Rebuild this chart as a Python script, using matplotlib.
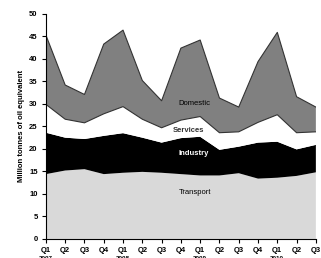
import matplotlib
matplotlib.use("Agg")
import matplotlib.pyplot as plt
import matplotlib.transforms as mtransforms
import numpy as np

quarters = ["Q1", "Q2", "Q3", "Q4", "Q1", "Q2", "Q3", "Q4", "Q1", "Q2", "Q3", "Q4", "Q1", "Q2", "Q3"]
years = ["2007", "", "", "", "2008", "", "", "", "2009", "", "", "", "2010", "", ""]

transport = [14.4, 15.2, 15.5, 14.4, 14.7, 14.9, 14.7, 14.4, 14.1, 14.1, 14.6, 13.4, 13.6, 14.0, 14.8]
industry_top = [23.6, 22.5, 22.2, 22.9, 23.5, 22.5, 21.4, 22.4, 22.7, 19.8, 20.5, 21.4, 21.6, 19.9, 20.9]
services_top = [29.9, 26.6, 25.8, 27.8, 29.4, 26.6, 24.7, 26.4, 27.2, 23.6, 23.8, 25.9, 27.6, 23.6, 23.8]
total = [45.3, 34.2, 32.1, 43.3, 46.4, 35.2, 30.7, 42.4, 44.2, 31.3, 29.3, 39.4, 45.9, 31.6, 29.3]

industry = list(np.array(industry_top) - np.array(transport))
services = list(np.array(services_top) - np.array(industry_top))
domestic = list(np.array(total) - np.array(services_top))

plt.rcParams['font.family'] = ['Liberation Sans', 'DejaVu Sans']

fig = plt.figure(figsize=(3.21, 2.58), dpi=100)
ax = fig.add_axes([0.143, 0.074, 0.841, 0.872])

x = np.arange(len(quarters))
ax.stackplot(x, transport, industry, services, domestic,
             colors=["#d9d9d9", "#000000", "#ffffff", "#808080"], linewidth=0)
ax.plot(x, services_top, color="#333333", lw=0.8)
ax.plot(x, total, color="#333333", lw=0.8)

ax.set_xlim(0, len(quarters) - 1)
ax.set_ylim(0, 50)
ax.set_yticks(range(0, 51, 5))
ax.set_xticks(x)
ax.set_xticklabels(quarters, fontsize=5.5, fontweight='bold')
ax.tick_params(axis='y', labelsize=5.5, length=3, width=0.8, direction='out', pad=3)
ax.tick_params(axis='x', length=3, width=0.8, direction='out', pad=3)
for lbl in ax.get_yticklabels():
    lbl.set_fontweight('bold')

trans = mtransforms.blended_transform_factory(ax.transData, fig.transFigure)
for xi, yr in zip(x, years):
    if yr:
        ax.text(xi, 0.0, yr, transform=trans, fontsize=4.5, fontweight='bold',
                ha='center', va='center', clip_on=False)

ax.spines['top'].set_visible(False)
ax.spines['right'].set_visible(False)
ax.spines['left'].set_linewidth(0.8)
ax.spines['bottom'].set_linewidth(0.8)
ax.set_ylabel("Million tonnes of oil equivalent", fontsize=5.5, fontweight='bold', labelpad=3)

ax.text(6.85, 30.2, "Domestic", fontsize=5.5, color='black', va='center', ha='left')
ax.text(6.6, 24.1, "Services", fontsize=5.5, color='#333333', fontweight='bold', va='center', ha='left')
ax.text(6.9, 19.0, "Industry", fontsize=5.5, color='white', fontweight='bold', va='center', ha='left')
ax.text(6.9, 10.4, "Transport", fontsize=5.5, color='black', va='center', ha='left')

fig.savefig("out.png", dpi=100)
